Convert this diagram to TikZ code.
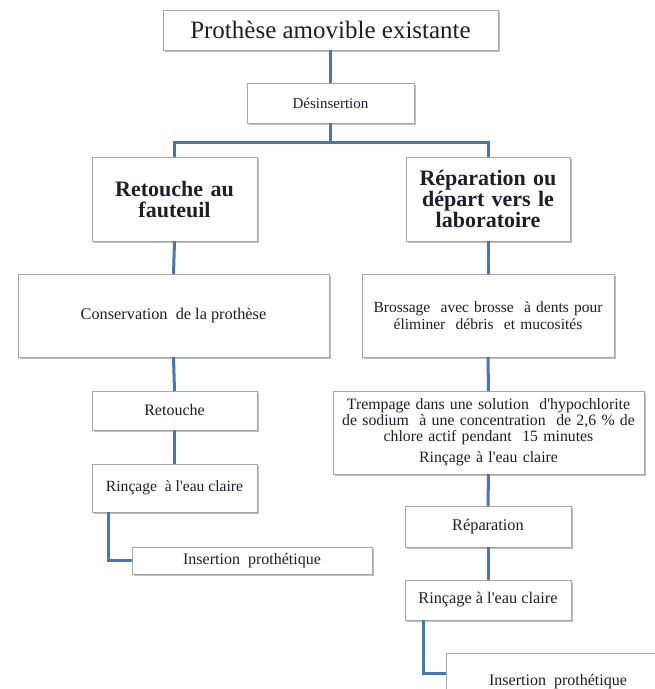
\documentclass[tikz,border=0pt]{standalone}
\usepackage{fontspec}
\setmainfont{Liberation Serif}
\usetikzlibrary{shadows}
\definecolor{connblue}{HTML}{4A76B0}
\definecolor{boxgray}{HTML}{A6A6A6}
\definecolor{txt}{HTML}{1E1E28}
\newcommand{\apos}{\textquotesingle}
\tikzset{
  box/.style={draw=boxgray, line width=0.8pt, fill=white, rectangle, inner sep=0pt, outer sep=0pt,
    align=center, text=txt,
    drop shadow={shadow xshift=1.5pt, shadow yshift=-1.5pt, fill=black!45, opacity=0.55}},
  conn/.style={draw=connblue, line width=3pt}
}
\begin{document}
\begin{tikzpicture}[x=1pt,y=-1pt]
\useasboundingbox (0,0) rectangle (655,689);
\clip (0,0) rectangle (655,689);
\fill[white] (0,0) rectangle (655,689);

\coordinate (hjoin) at (330.5,142);

\node[box, minimum width=335pt, minimum height=40pt, font=\fontsize{25}{28}\selectfont] (top) at (330.5,30) {Prothèse amovible existante};
\node[box, minimum width=167pt, minimum height=40pt, font=\fontsize{15}{17}\selectfont] (des) at (330.5,103) {Désinsertion};
\node[box, minimum width=165pt, minimum height=84pt, text width=160pt, font=\fontsize{22}{21}\selectfont\bfseries] (left) at (174.5,199) {Retouche au\\fauteuil};
\node[box, minimum width=164pt, minimum height=84pt, text width=160pt, font=\fontsize{22}{21}\selectfont\bfseries] (right) at (488,199) {Réparation ou\\départ vers le\\laboratoire};
\node[box, minimum width=311pt, minimum height=83pt, font=\fontsize{16.3}{18}\selectfont] (cons) at (173.5,315.5) {Conservation\ \ de la prothèse};
\node[box, minimum width=165pt, minimum height=39pt, font=\fontsize{16}{18}\selectfont] (ret) at (174.5,410.5) {Retouche};
\node[box, minimum width=165pt, minimum height=48pt, font=\fontsize{15.6}{18}\selectfont] (rinL) at (174.5,488) {Rinçage\ \ à l\apos eau claire};
\node[box, minimum width=240pt, minimum height=27pt, font=\fontsize{16}{18}\selectfont] (insL) at (252,560.5) {Insertion\ \ prothétique};
\node[box, minimum width=252pt, minimum height=83pt, text width=248pt, font=\fontsize{15.5}{17}\selectfont] (bros) at (488,315.5) {Brossage\ \ avec brosse\ \ à dents pour\\éliminer\ \ débris\ \ et mucosités};
\node[box, minimum width=311pt, minimum height=83pt, text width=308pt, font=\fontsize{15.8}{16}\selectfont] (trem) at (488.5,432.5) {Trempage dans une solution\ \ d\apos hypochlorite\\de sodium\ \ à une concentration\ \ de 2,6 \% de\\chlore actif pendant\ \ 15 minutes\\[5pt]Rinçage à l\apos eau claire};
\node[box, minimum width=166pt, minimum height=41pt, font=\fontsize{16.3}{18}\selectfont] (rep) at (488,526.5) {Réparation};
\node[box, minimum width=166pt, minimum height=40pt, font=\fontsize{16.3}{18}\selectfont] (rinR) at (488,600) {Rinçage à l\apos eau claire};
\node[box, minimum width=224pt, minimum height=58pt, font=\fontsize{16}{18}\selectfont] (insR) at (558,682) {Insertion\ \ prothétique};

\draw[conn] (top.south) -- (des.north);
\draw[conn] (des.south) -- (hjoin);
\draw[conn] (left.north) |- (hjoin) -| (right.north);
\draw[conn] (left.south) -- (cons.north);
\draw[conn] (cons.south) -- (ret.north);
\draw[conn] (ret.south) -- (rinL.north);
\draw[conn] ([xshift=16pt]rinL.south west) |- (insL.west);
\draw[conn] (right.south) -- (bros.north);
\draw[conn] (bros.south) -- (trem.north);
\draw[conn] (trem.south) -- (rep.north);
\draw[conn] (rep.south) -- (rinR.north);
\draw[conn] ([xshift=18pt]rinR.south west) |- ([yshift=9pt]insR.west);
\end{tikzpicture}
\end{document}
